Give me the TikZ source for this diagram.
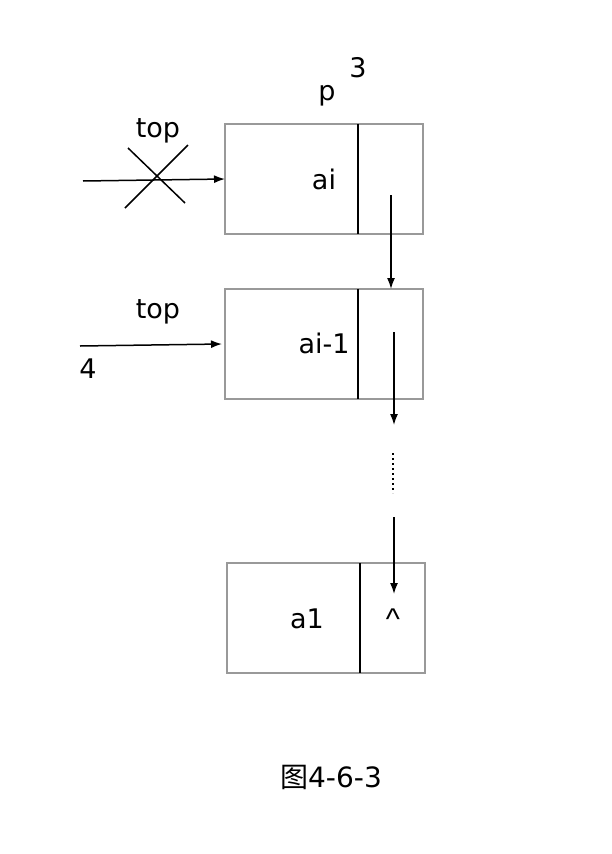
\documentclass[tikz,border=0pt]{standalone}
\usepackage{fontspec}
\setmainfont{DejaVu Sans}
\newfontfamily\cjk{Noto Sans CJK SC}
\newfontfamily\caretfont{Liberation Sans}
\usetikzlibrary{arrows.meta}
\begin{document}
\begin{tikzpicture}[x=1pt,y=-1pt,
  cell/.style={draw=black!40,line width=1.5pt,minimum width=198pt,minimum height=110pt,inner sep=0pt},
  divider/.style={line width=1.6pt},
  ptr/.style={line width=1.5pt,-{Latex[length=11pt,width=8pt]}},
  lbl/.style={font=\fontsize{27}{30}\selectfont,inner sep=0pt,anchor=base}]
\useasboundingbox (0,0) rectangle (612,854);
% boxes
\node[cell] (b1) at (324,179) {};
\node[cell] (b2) at (324,344) {};
\node[cell] (b3) at (326,618) {};
\draw[divider] (358,124) -- (358,234);
\draw[divider] (358,289) -- (358,399);
\draw[divider] (360,563) -- (360,673);
% labels
\node[lbl] (ai) at (324,189) {ai};
\node[lbl] (ai1) at (324,353) {ai-1};
\node[lbl] (a1) at (307,628) {a1};
\node[lbl,anchor=center,font=\caretfont\fontsize{30}{34}\selectfont] (nil) at (393,619) {\textasciicircum};
\node[lbl] (p) at (327,100) {p};
\node[lbl] (n3) at (358,77) {3};
\node[lbl] (top1) at (158,137) {top};
\node[lbl] (top2) at (158,318) {top};
\node[lbl] (n4) at (88,378) {4};
\node[lbl,font=\fontsize{28}{32}\selectfont] (cap) at (331,787) {{\cjk 图}4-6-3};
% pointer arrows
\coordinate (s1) at (83,181);
\coordinate (e1) at (225,179);
\draw[ptr] (s1) -- (e1);
\draw[line width=1.5pt] (125,208) -- (188,145);
\draw[line width=1.5pt] (128,148) -- (185,203);
\coordinate (s2) at (80,346);
\coordinate (e2) at (222,344);
\draw[ptr] (s2) -- (e2);
\coordinate (d1s) at (391,195);
\coordinate (d1e) at (391,289);
\draw[ptr] (d1s) -- (d1e);
\coordinate (d2s) at (394,332);
\coordinate (d2e) at (394,425);
\draw[ptr] (d2s) -- (d2e);
\coordinate (dots1) at (393,453);
\coordinate (dots2) at (393,493);
\draw[line width=1.8pt,dash pattern=on 2pt off 3pt] (dots1) -- (dots2);
\coordinate (d3s) at (394,517);
\coordinate (d3e) at (394,594);
\draw[ptr] (d3s) -- (d3e);
\end{tikzpicture}
\end{document}
